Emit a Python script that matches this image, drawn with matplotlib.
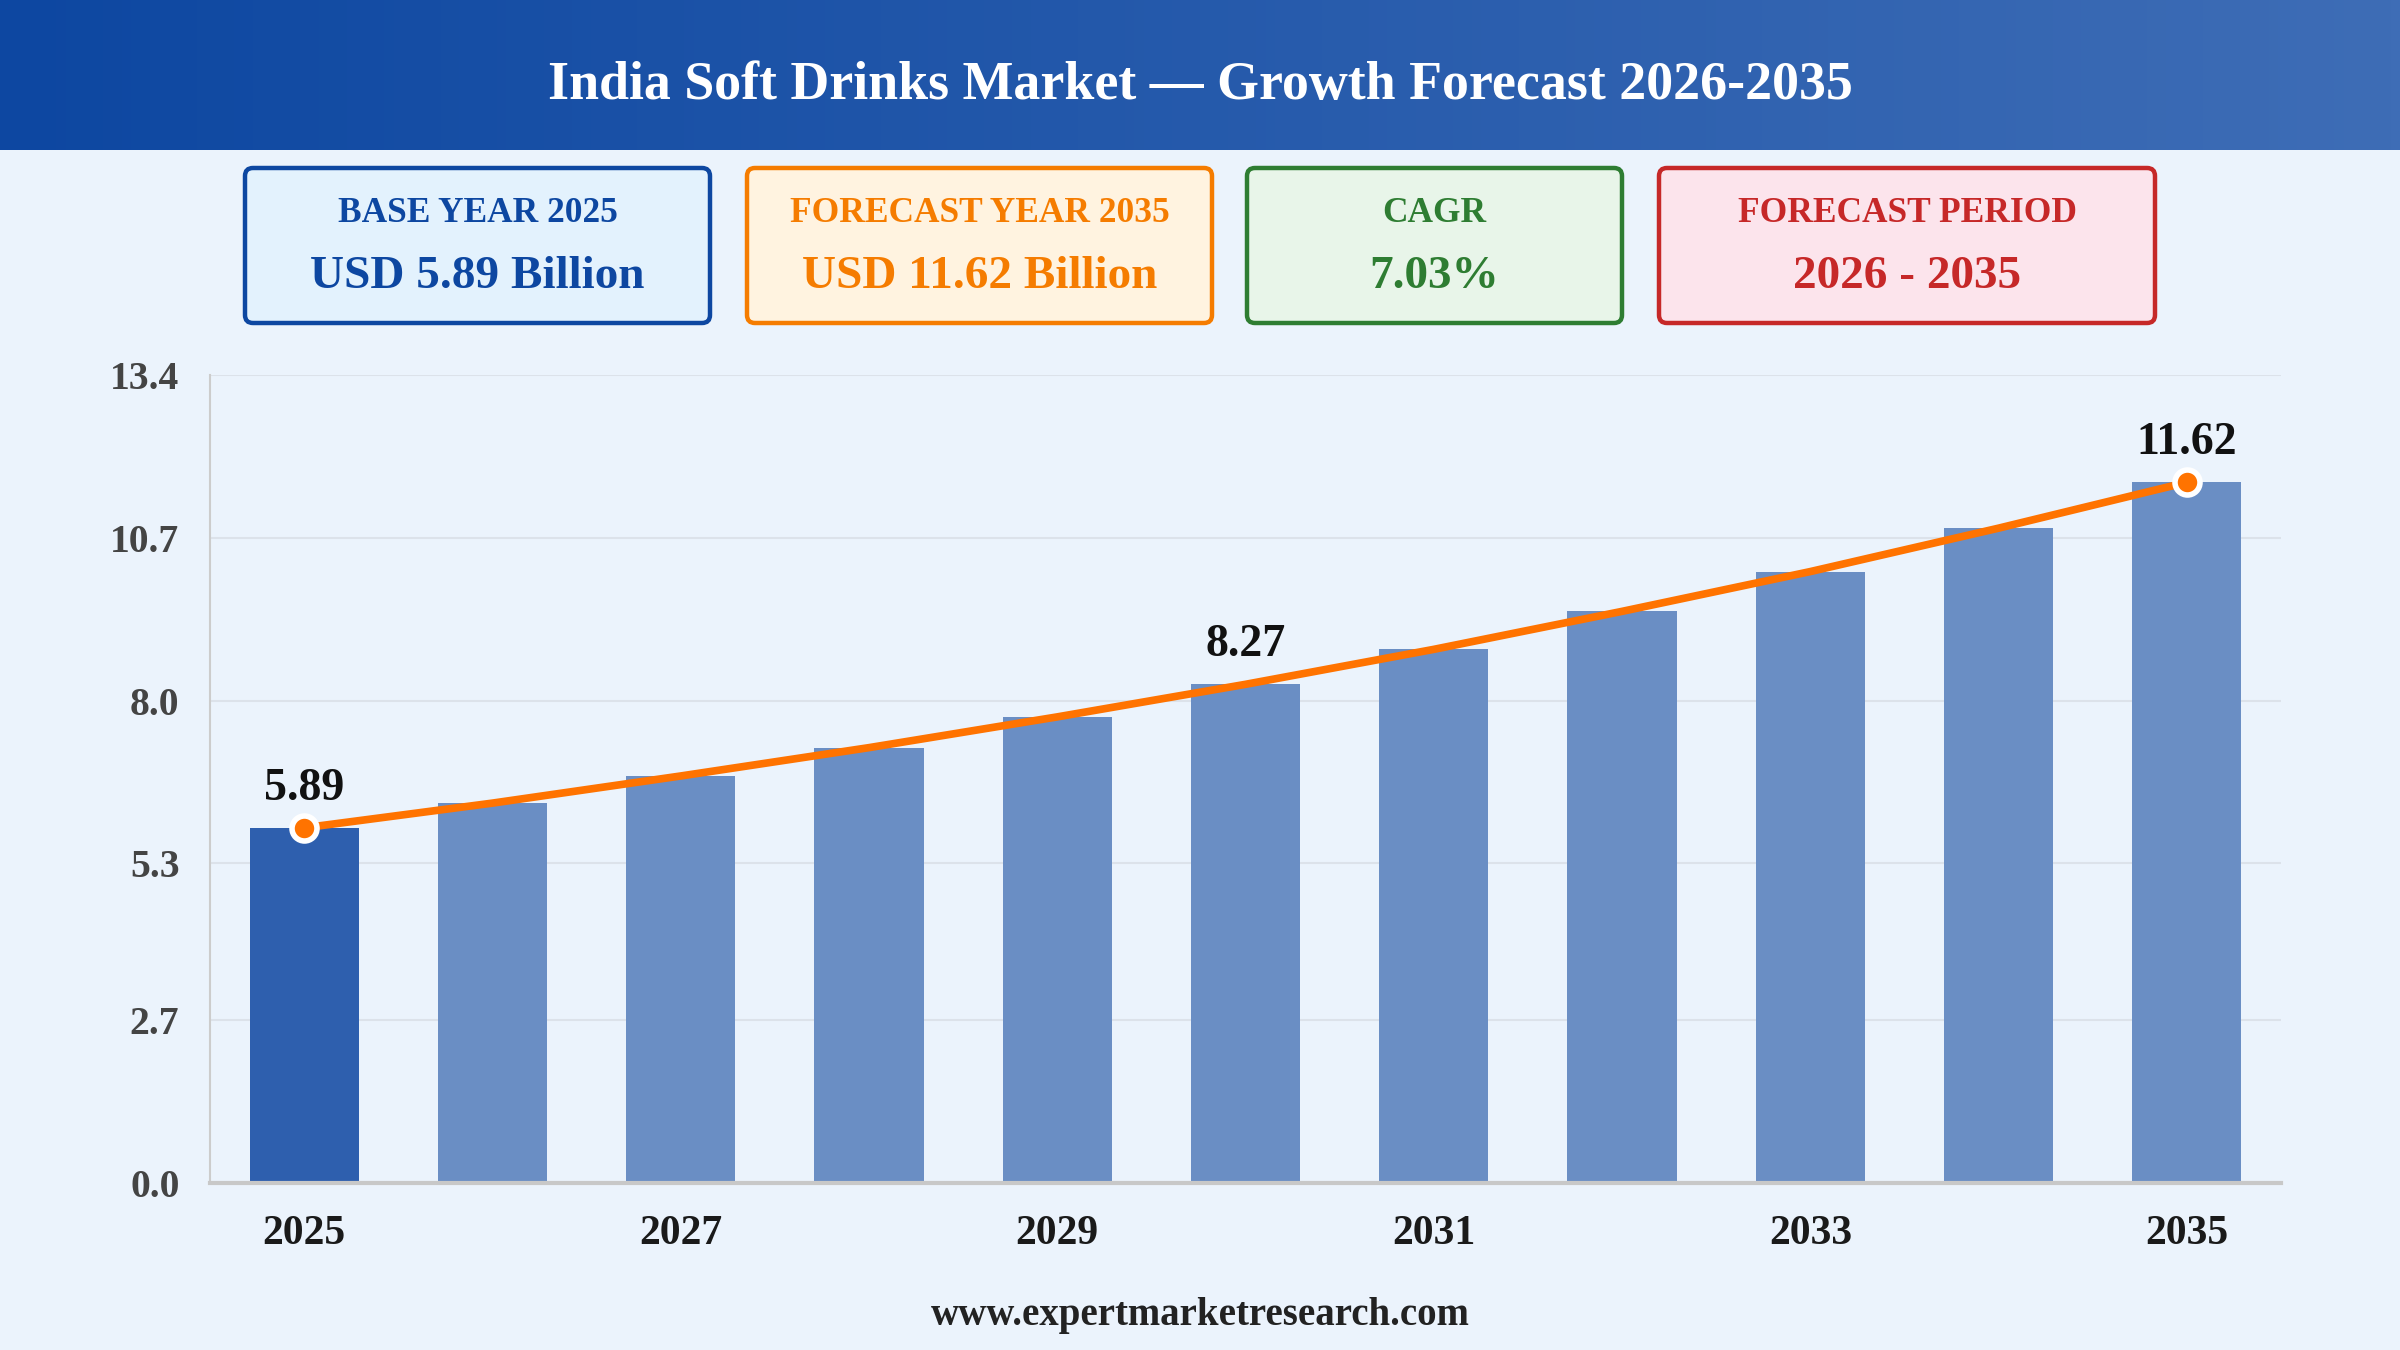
"""India soft drinks market growth forecast chart."""

import matplotlib.pyplot as plt
import numpy as np
from matplotlib.patches import FancyBboxPatch

years = [2025, 2026, 2027, 2028, 2029, 2030, 2031, 2032, 2033, 2034, 2035]
market_size = [5.89, 6.30, 6.75, 7.22, 7.73, 8.27, 8.85, 9.48, 10.14, 10.86, 11.62]
labelled_years = [2025, 2030, 2035]
marker_years = [2025, 2035]
y_ticks = [0.0, 2.7, 5.3, 8.0, 10.7, 13.4]
x_tick_years = [2025, 2027, 2029, 2031, 2033, 2035]

title = "India Soft Drinks Market \u2014 Growth Forecast 2026-2035"
card_labels = ["BASE YEAR 2025", "FORECAST YEAR 2035", "CAGR", "FORECAST PERIOD"]
card_values = ["USD 5.89 Billion", "USD 11.62 Billion", "7.03%", "2026 - 2035"]
source = "www.expertmarketresearch.com"

# Card boxes in pixel coordinates: (left, right), plus colours.
card_spans = [(245, 710), (747, 1212), (1247, 1622), (1659, 2155)]
card_edge = ["#0D47A1", "#F57C00", "#2E7D32", "#C62828"]
card_face = ["#E3F2FD", "#FFF3E0", "#E8F5E9", "#FCE4EC"]

W, H = 2400, 1350
BG = "#EBF3FC"

plt.rcParams["font.family"] = ["Liberation Serif", "DejaVu Serif"]
plt.rcParams["font.weight"] = "bold"

fig = plt.figure(figsize=(24, 13.5), dpi=100, facecolor=BG)

# Header with horizontal gradient.
ax_head = fig.add_axes([0, 1 - 150 / H, 1, 150 / H])
grad = np.linspace(0, 1, 256).reshape(1, -1)
c0 = np.array([13, 71, 161]) / 255
c1 = np.array([62, 109, 182]) / 255
img = (c0[None, None, :] * (1 - grad[..., None]) + c1[None, None, :] * grad[..., None])
ax_head.imshow(img, aspect="auto", extent=[0, 1, 0, 1])
ax_head.set_axis_off()
ax_head.text(0.5, 0.43, title, color="white", fontsize=38.8, fontweight="bold",
             ha="center", va="center", transform=ax_head.transAxes)

# Overlay for cards and footer, in pixel units.
ax_over = fig.add_axes([0, 0, 1, 1 - 150 / H], zorder=-1)
ax_over.set_xlim(0, W)
ax_over.set_ylim(H, 150)
ax_over.set_axis_off()
ax_over.set_facecolor(BG)

for (x0, x1), edge, face, lab, val in zip(card_spans, card_edge, card_face,
                                          card_labels, card_values):
    box = FancyBboxPatch((x0, 168), x1 - x0, 155,
                         boxstyle="round,pad=0,rounding_size=8",
                         facecolor=face, edgecolor=edge, linewidth=3.2)
    ax_over.add_patch(box)
    cx = (x0 + x1) / 2
    ax_over.text(cx, 214, lab, color=edge, fontsize=25.5, fontweight="bold",
                 ha="center", va="center")
    ax_over.text(cx, 277, val, color=edge, fontsize=34, fontweight="bold",
                 ha="center", va="center")

ax_over.text(W / 2, 1316, source, color="#222222", fontsize=28,
             fontweight="bold", ha="center", va="center")

# Main chart.
ax = fig.add_axes([210 / W, 1 - 1183 / H, (2281 - 210) / W, (1183 - 375) / H])
ax.set_facecolor("none")
x = np.arange(len(years))
bar_colors = ["#2E5FAE"] + ["#6A8EC4"] * (len(years) - 1)
ax.bar(x, market_size, width=0.58, color=bar_colors, zorder=2)
ax.plot(x, market_size, color="#FF7300", linewidth=5.5, zorder=3,
        solid_capstyle="round")
mk = [years.index(yr) for yr in marker_years]
ax.plot(x[mk], [market_size[i] for i in mk], linestyle="none", marker="o",
        markersize=18, markerfacecolor="#FF7300", markeredgecolor="white",
        markeredgewidth=4, zorder=4)

for yr in labelled_years:
    i = years.index(yr)
    ax.annotate(f"{market_size[i]:.2f}", (x[i], market_size[i]),
                xytext=(0, 28), textcoords="offset points", ha="center",
                va="center", fontsize=33, fontweight="bold", color="#111111")

ax.set_xlim(-0.5, len(years) - 0.5)
ax.set_ylim(0, 13.4)
ax.set_yticks(y_ticks)
ax.set_yticklabels([f"{v:.1f}" for v in y_ticks])
ax.set_xticks([years.index(yr) for yr in x_tick_years])
ax.set_xticklabels([str(yr) for yr in x_tick_years])
ax.tick_params(axis="y", length=0, pad=22, labelsize=28.5, labelcolor="#444444")
ax.tick_params(axis="x", length=0, pad=23, labelsize=30, labelcolor="#1A1A1A")
ax.grid(axis="y", color="#DCE2EA", linewidth=1.5, zorder=0)
ax.set_axisbelow(True)
for side in ["top", "right"]:
    ax.spines[side].set_visible(False)
ax.spines["left"].set_color("#CCCCCC")
ax.spines["left"].set_linewidth(1.5)
ax.spines["bottom"].set_color("#C8C8C8")
ax.spines["bottom"].set_linewidth(3)

fig.savefig("out.png", dpi=100, facecolor=BG)
